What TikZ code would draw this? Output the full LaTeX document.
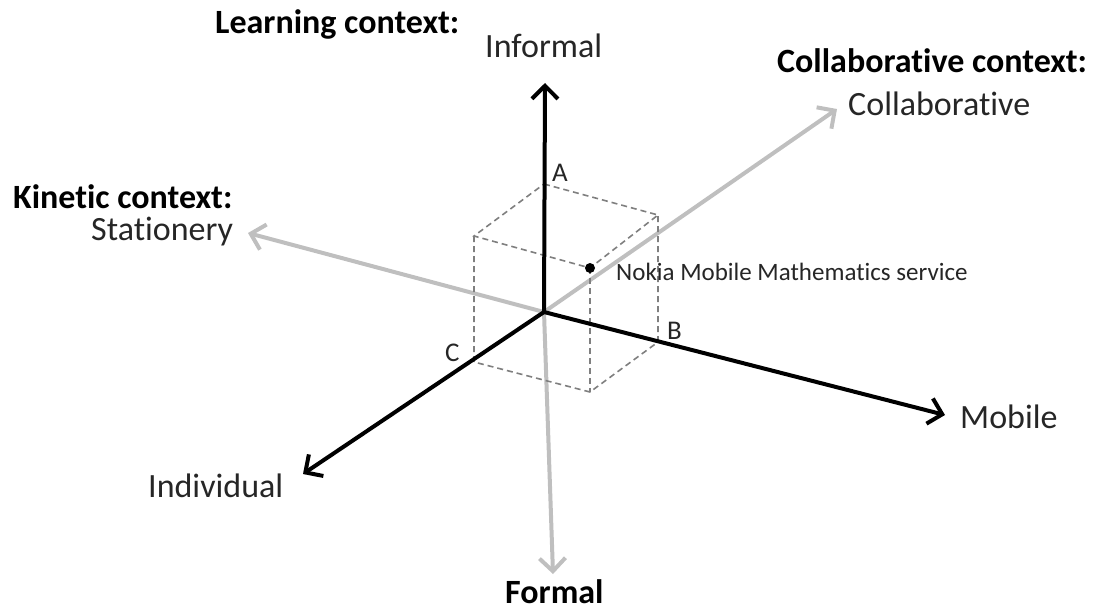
\documentclass[tikz,border=0pt]{standalone}
\usepackage{fontspec}
\setmainfont{Carlito}[Ligatures={NoCommon,NoContextual}]
\usetikzlibrary{arrows.meta}
\definecolor{axisgray}{HTML}{BFBFBF}
\definecolor{dashgray}{HTML}{7F7F7F}
\begin{document}
\begin{tikzpicture}[x=1pt,y=-1pt,
  lab/.style={font=\fontsize{34}{38}\selectfont, inner sep=0pt, anchor=base west, text=black!85},
  boldlab/.style={font=\fontsize{34}{38}\selectfont\bfseries, inner sep=0pt, anchor=base west},
  smalllab/.style={font=\fontsize{25}{29}\selectfont, inner sep=0pt, anchor=base west, text=black!85},
  letterlab/.style={font=\fontsize{27}{30}\selectfont, inner sep=0pt, anchor=base west, text=black!85},
  blackaxis/.style={line width=4pt, black, -{Straight Barb[length=13pt,width=26pt]}},
  grayaxis/.style={line width=4pt, axisgray, -{Straight Barb[length=13pt,width=26pt]}},
  cubeedge/.style={dashgray, line width=1.6pt, dash pattern=on 6pt off 4pt}]
\useasboundingbox (0,0) rectangle (1099,611);
% points
\coordinate (O) at (544,312);
\coordinate (tipUp) at (545,83);
\coordinate (tipDown) at (553,574);
\coordinate (tipColl) at (837,109);
\coordinate (tipStat) at (248,233);
\coordinate (tipMob) at (945,415);
\coordinate (tipInd) at (303,474);
% cube corners
\coordinate (A) at (544,184);
\coordinate (B) at (658,342);
\coordinate (C) at (474,362);
\coordinate (AB) at (658,215);
\coordinate (AC) at (474,236);
\coordinate (BC) at (590,392);
\coordinate (ABC) at (590,268);
% gray axes
\draw[grayaxis] (O) -- (tipColl);
\draw[grayaxis] (O) -- (tipStat);
\draw[grayaxis] (O) -- (tipDown);
% dashed cube
\draw[cubeedge] (A) -- (AB) -- (ABC) -- (AC) -- cycle;
\draw[cubeedge] (AC) -- (C) -- (BC) -- (B) -- (AB);
\draw[cubeedge] (ABC) -- (BC);
% black axes
\draw[blackaxis] (O) -- (tipUp);
\draw[blackaxis] (O) -- (tipMob);
\draw[blackaxis] (O) -- (tipInd);
% point
\fill (ABC) circle (5pt);
% labels
\node[boldlab] (lctx) at (215,33) {Learning context:};
\node[lab] (informal) at (485,57) {Informal};
\node[boldlab] (cctx) at (777,72) {Collaborative context:};
\node[lab] (collab) at (848,115) {Collaborative};
\node[boldlab] (kctx) at (13,208) {Kinetic context:};
\node[lab] (stat) at (91,240) {Stationery};
\node[smalllab] (nokia) at (616,280) {Nokia Mobile Mathematics service};
\node[lab] (mobile) at (960,428) {Mobile};
\node[lab] (indiv) at (148,497) {Individual};
\node[boldlab] (formal) at (505,603) {Formal};
\node[letterlab] (la) at (552,181) {A};
\node[letterlab] (lb) at (667,339) {B};
\node[letterlab] (lc) at (445,361) {C};
\end{tikzpicture}
\end{document}
